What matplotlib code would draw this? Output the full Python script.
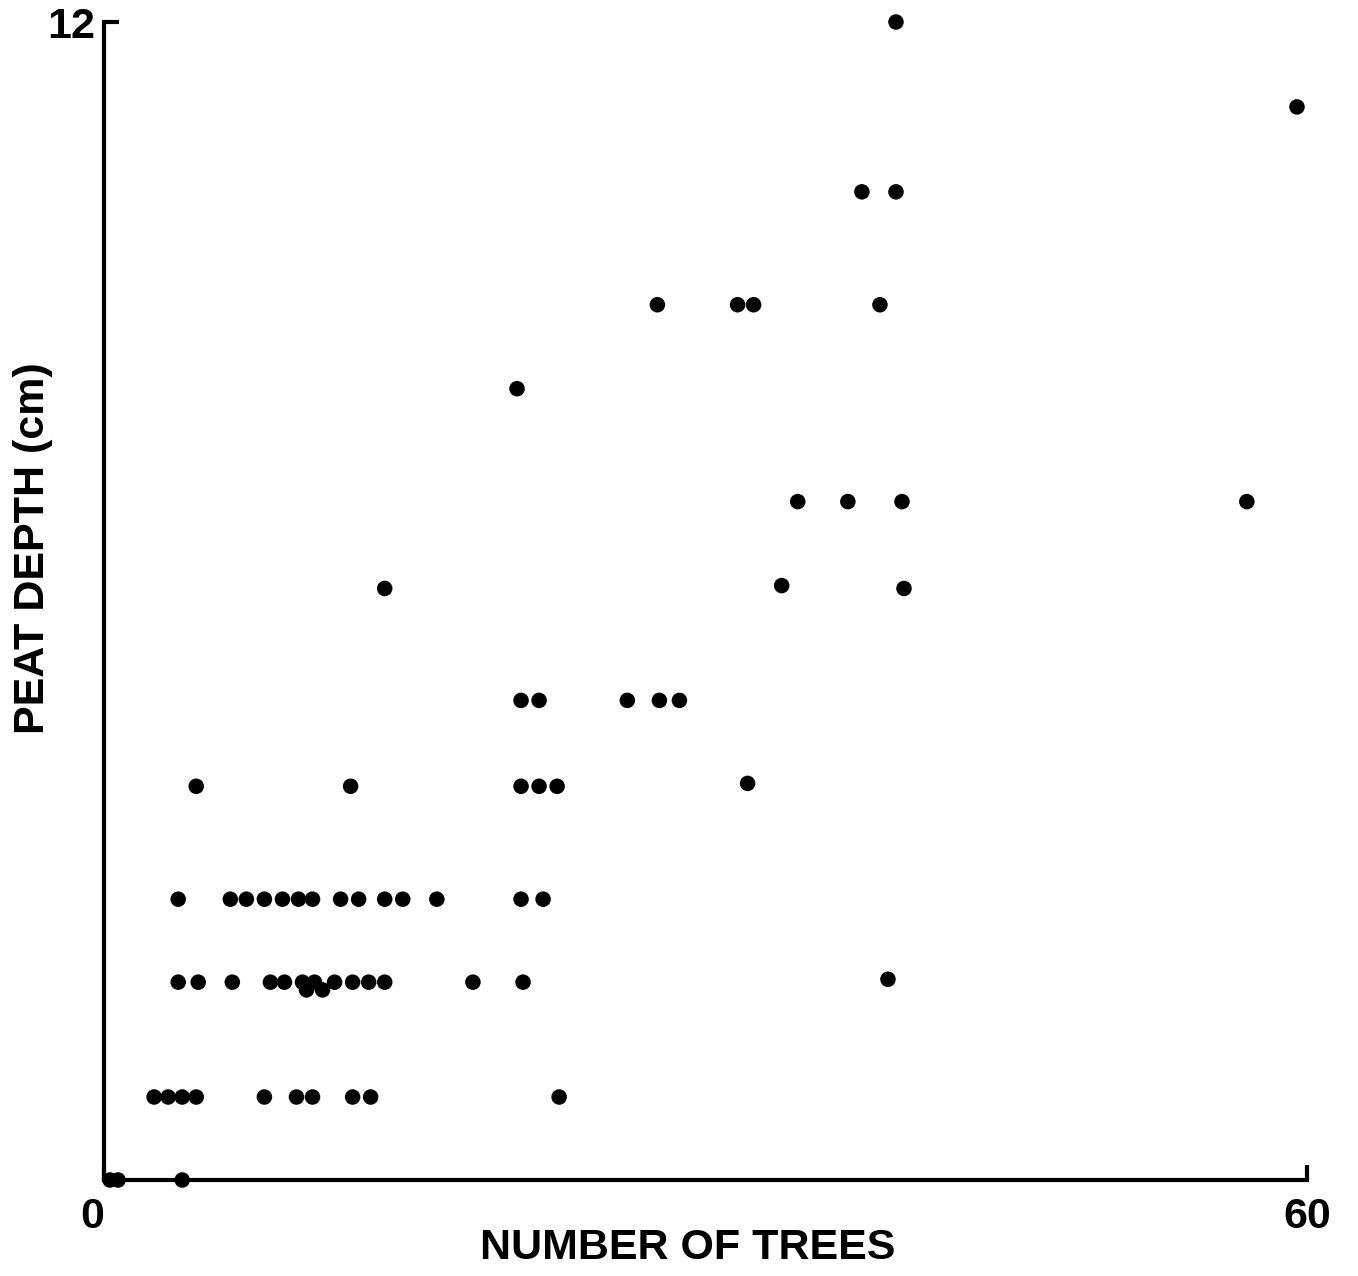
import matplotlib
matplotlib.use("Agg")
import matplotlib.pyplot as plt
import matplotlib.transforms as mtransforms

# number of trees vs peat depth (cm)
trees = [0.3, 0.7, 3.9,
         2.5, 3.2, 3.9, 4.6, 8.0, 9.6, 10.4, 12.4, 13.3, 22.7,
         3.7, 4.7, 6.4, 8.3, 9.0, 9.9, 10.1, 10.5, 10.9, 11.5, 12.4, 13.2, 14.0, 18.4, 20.9, 39.1,
         3.7, 6.3, 7.1, 8.0, 8.9, 9.7, 10.4, 11.8, 12.7, 14.0, 14.9, 16.6, 20.8, 21.9,
         4.6, 12.3, 20.8, 21.7, 22.6, 32.1,
         20.8, 21.7, 26.1, 27.7, 28.7,
         14.0, 33.8, 39.9,
         34.6, 37.1, 39.8, 57.0,
         20.6,
         27.6, 31.6, 32.4, 38.7,
         37.8, 39.5,
         59.5,
         39.5]
depth = [0.0, 0.0, 0.0,
         0.86, 0.86, 0.86, 0.86, 0.86, 0.86, 0.86, 0.86, 0.86, 0.86,
         2.05, 2.05, 2.05, 2.05, 2.05, 2.05, 1.97, 2.05, 1.97, 2.05, 2.05, 2.05, 2.05, 2.05, 2.05, 2.08,
         2.91, 2.91, 2.91, 2.91, 2.91, 2.91, 2.91, 2.91, 2.91, 2.91, 2.91, 2.91, 2.91, 2.91,
         4.08, 4.08, 4.08, 4.08, 4.08, 4.11,
         4.97, 4.97, 4.97, 4.97, 4.97,
         6.13, 6.16, 6.13,
         7.03, 7.03, 7.03, 7.03,
         8.20,
         9.07, 9.07, 9.07, 9.07,
         10.24, 10.24,
         11.12,
         12.0]

W, H = 1358, 1276
fig = plt.figure(figsize=(W / 100, H / 100), dpi=100)
ax = fig.add_axes([104 / W, 1 - 1180 / H, 1203 / W, 1158 / H])

ax.scatter(trees, depth, s=125, color="black", edgecolors="none", clip_on=False, zorder=3)

ax.set_xlim(0, 60)
ax.set_ylim(0, 12)
for s in ["top", "right"]:
    ax.spines[s].set_visible(False)
for s in ["left", "bottom"]:
    ax.spines[s].set_linewidth(3)

font = dict(family=["Liberation Sans", "DejaVu Sans"], weight="bold")
ax.set_xticks([0, 60])
ax.set_yticks([12])
ax.set_xticklabels(["0", "60"], fontsize=31, **font)
ax.set_yticklabels(["12"], fontsize=31, **font)
ax.tick_params(direction="in", length=11, width=3)
ax.tick_params(axis="x", pad=12)
ax.tick_params(axis="y", pad=6)
# the "0" sits a little left of the origin in the original
lab0 = ax.get_xticklabels()[0]
lab0.set_transform(lab0.get_transform() + mtransforms.ScaledTranslation(-0.12, 0, fig.dpi_scale_trans))

ax.set_xlabel("NUMBER OF TREES", fontsize=31, va="center", **font)
ax.set_ylabel("PEAT DEPTH (cm)", fontsize=31, va="center", **font)
ax.xaxis.set_label_coords(0.485, -0.059)
ax.yaxis.set_label_coords(-0.059, 0.546)

fig.savefig("out.png", dpi=100, facecolor="white")
